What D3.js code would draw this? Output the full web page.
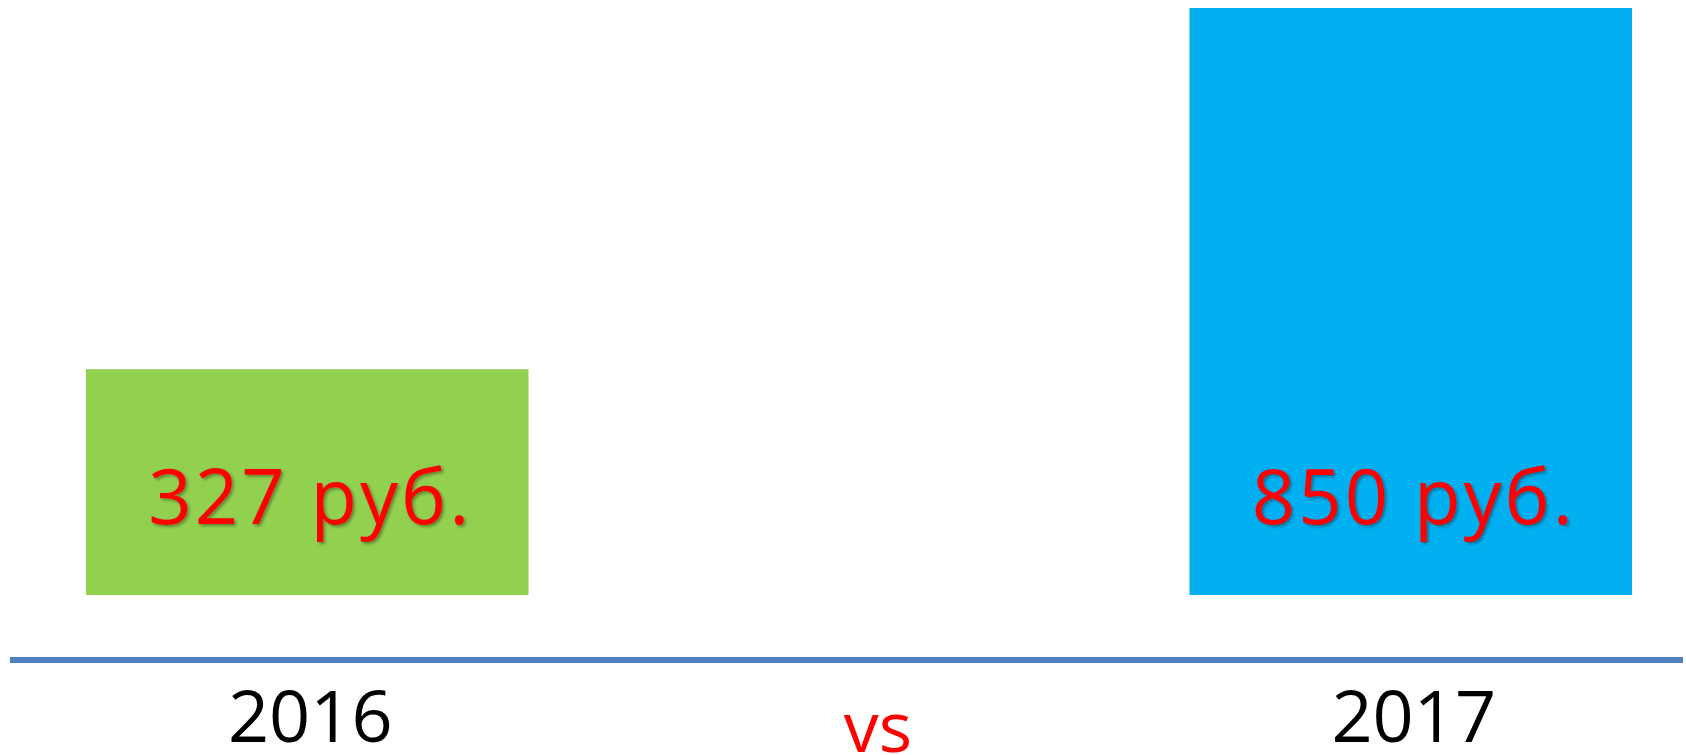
<!DOCTYPE html>
<html>
<head>
<meta charset="utf-8">
<script src="https://cdn.jsdelivr.net/npm/d3@7"></script>
<style>
  html, body { margin: 0; padding: 0; background: #ffffff; overflow: hidden; }
  svg { display: block; }
</style>
</head>
<body>
<svg id="chart" width="1686" height="755"></svg>
<script>
const categories = ["2016", "2017"];
const values = [327, 850];
const valueLabels = ["327 руб.", "850 руб."];
const barColors = ["#92d050", "#00b0f0"];
const middleLabel = "vs";

const W = 1686, H = 755;
const svg = d3.select("#chart");

const x = d3.scaleBand()
  .domain(categories)
  .range([86, 1632])
  .paddingInner(0.599)
  .paddingOuter(0);

const y = d3.scaleLinear()
  .domain([0, d3.max(values)])
  .range([595, 8]);

const defs = svg.append("defs");
const f = defs.append("filter").attr("id", "shadow")
  .attr("x", "-10%").attr("y", "-20%").attr("width", "130%").attr("height", "150%");
f.append("feDropShadow")
  .attr("dx", 2).attr("dy", 2).attr("stdDeviation", 1.5)
  .attr("flood-color", "#000").attr("flood-opacity", 0.35);

const data = categories.map((c, i) => ({ c, v: values[i], label: valueLabels[i], color: barColors[i] }));

svg.selectAll("rect.bar").data(data).join("rect")
  .attr("class", "bar")
  .attr("x", d => x(d.c))
  .attr("y", d => y(d.v))
  .attr("width", x.bandwidth())
  .attr("height", d => y(0) - y(d.v))
  .attr("fill", d => d.color);

svg.selectAll("text.val").data(data).join("text")
  .attr("class", "val")
  .attr("x", d => x(d.c) + x.bandwidth() / 2 + 3)
  .attr("y", y(0) - 71)
  .attr("text-anchor", "middle")
  .attr("font-family", "'Open Sans', sans-serif")
  .attr("font-size", 76)
  .attr("letter-spacing", 3)
  .attr("fill", "#ff0000")
  .attr("filter", "url(#shadow)")
  .text(d => d.label);

// baseline rule
svg.append("line")
  .attr("x1", 10).attr("x2", 1683)
  .attr("y1", 660).attr("y2", 660)
  .attr("stroke", "#4f81bd")
  .attr("stroke-width", 6);

svg.selectAll("text.cat").data(data).join("text")
  .attr("class", "cat")
  .attr("x", d => x(d.c) + x.bandwidth() / 2 + 3)
  .attr("y", 742)
  .attr("text-anchor", "middle")
  .attr("font-family", "'Open Sans', sans-serif")
  .attr("font-size", 72)
  .attr("fill", "#000")
  .text(d => d.c);

svg.append("text")
  .attr("x", (x(categories[0]) + x(categories[1]) + x.bandwidth()) / 2 + 19)
  .attr("y", 752)
  .attr("text-anchor", "middle")
  .attr("font-family", "'Open Sans', sans-serif")
  .attr("font-size", 70)
  .attr("fill", "#ff0000")
  .text(middleLabel);
</script>
</body>
</html>
